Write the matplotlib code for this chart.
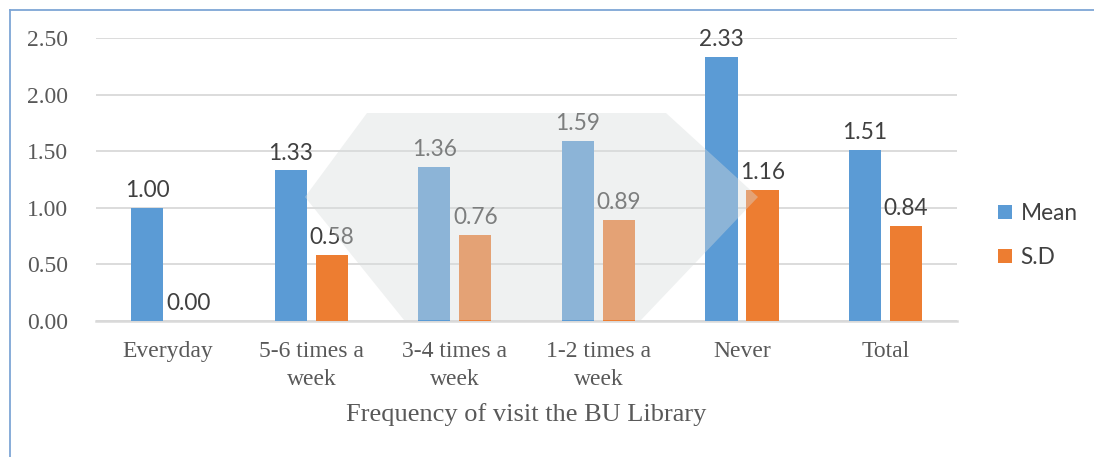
import matplotlib
matplotlib.use("Agg")
import matplotlib.pyplot as plt
from matplotlib.lines import Line2D
from matplotlib.patches import Polygon
import numpy as np

categories = ["Everyday", "5-6 times a\nweek", "3-4 times a\nweek", "1-2 times a\nweek", "Never", "Total"]
mean_vals = [1.00, 1.33, 1.36, 1.59, 2.33, 1.51]
sd_vals = [0.00, 0.58, 0.76, 0.89, 1.16, 0.84]
y_ticks = [0.0, 0.5, 1.0, 1.5, 2.0, 2.5]
x_title = "Frequency of visit the BU Library"

blue = "#5B9BD5"
orange = "#ED7D31"
grid_c = "#D9D9D9"
tick_c = "#595959"
label_c = "#404040"
serif = ["Liberation Serif", "DejaVu Serif"]
sans = ["Lato", "DejaVu Sans"]

W, H = 1094, 457
fig = plt.figure(figsize=(W / 100, H / 100), dpi=100)
ax = fig.add_axes([0.0878, 0.2976, 0.7872, 0.6192])

x = np.arange(len(categories))
w = 0.224
off = 0.143
b1 = ax.bar(x - off, mean_vals, w, color=blue, label="Mean", zorder=3)
b2 = ax.bar(x + off, sd_vals, w, color=orange, label="S.D", zorder=3)

for bars, vals in ((b1, mean_vals), (b2, sd_vals)):
    for r, v in zip(bars, vals):
        ax.annotate(f"{v:.2f}", (r.get_x() + r.get_width() / 2, v),
                    xytext=(0, 5), textcoords="offset points",
                    ha="center", va="bottom", fontsize=16.3,
                    family=sans, color=label_c, zorder=4)

ax.set_xlim(-0.5, len(categories) - 0.5)
ax.set_ylim(0, 2.5)
ax.set_yticks(y_ticks)
ax.set_yticklabels([f"{t:.2f}" for t in y_ticks], family=serif, fontsize=17, color=tick_c)
ax.set_xticks(x)
ax.set_xticklabels(categories, family=serif, fontsize=17, color=tick_c, linespacing=1.4)
ax.tick_params(axis="both", length=0)
ax.tick_params(axis="y", pad=20)
ax.tick_params(axis="x", pad=14.5)
ax.grid(axis="y", color=grid_c, linewidth=1.3, zorder=0)
for s in ("top", "right", "left"):
    ax.spines[s].set_visible(False)
ax.spines["bottom"].set_color(grid_c)
ax.spines["bottom"].set_linewidth(1.8)
ax.set_xlabel(x_title, family=serif, fontsize=19, color=tick_c, labelpad=10)

leg = fig.legend(handles=[b1, b2], labels=["Mean", "S.D"], loc="center left",
                 bbox_to_anchor=(0.894, 0.485), frameon=False,
                 prop={"family": sans, "size": 16.3}, handlelength=0.58,
                 handleheight=0.58, handletextpad=0.4, labelspacing=1.0)
for t in leg.get_texts():
    t.set_color(label_c)

# outer chart frame (top and left edges)
fig.add_artist(Line2D([0.0091, 0.0091], [0, 0.979], color="#7EA6D6", linewidth=1.3))
fig.add_artist(Line2D([0.0091, 1.0], [0.979, 0.979], color="#7EA6D6", linewidth=1.3))

# faint diamond-shaped emblem laid over the plotting area
diamond_px = [(367, 113), (666, 113), (758, 197), (641, 320), (404, 320), (305, 197)]
diamond = Polygon([(px / W, 1 - py / H) for px, py in diamond_px], closed=True,
                  transform=fig.transFigure, facecolor="#D8DCDC", alpha=0.4,
                  edgecolor="none", zorder=10)
fig.add_artist(diamond)

fig.savefig("out.png", dpi=100, facecolor="white")
